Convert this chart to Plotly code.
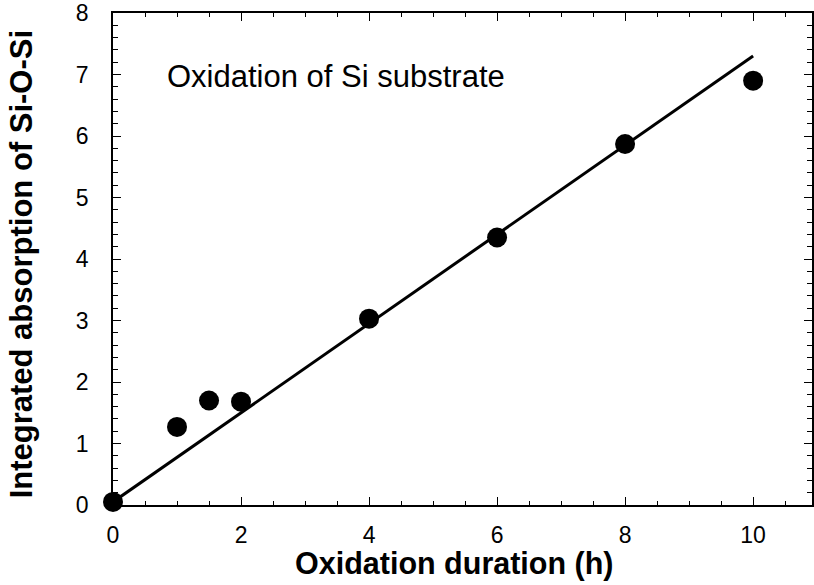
import plotly.graph_objects as go

duration_h = [0, 1, 1.5, 2, 4, 6, 8, 10]
absorption = [0.05, 1.27, 1.70, 1.68, 3.03, 4.35, 5.87, 6.90]
fit_x = [0, 10]
fit_y = [0.05, 7.30]

x_title = "Oxidation duration (h)"
y_title = "Integrated absorption of Si-O-Si"
label_text = "Oxidation of Si substrate"

FONT = "Liberation Sans, Arial, sans-serif"

fig = go.Figure()
fig.add_trace(go.Scatter(x=fit_x, y=fit_y, mode="lines",
                         line=dict(color="black", width=3), showlegend=False,
                         cliponaxis=False))
fig.add_trace(go.Scatter(x=duration_h, y=absorption, mode="markers",
                         marker=dict(color="black", size=20), showlegend=False,
                         cliponaxis=False))

axis_common = dict(showline=True, linecolor="black", linewidth=1.5, mirror="allticks",
                   ticks="inside", tickwidth=1.2, tickcolor="black",
                   showgrid=False, zeroline=False,
                   tickfont=dict(family=FONT, size=23, color="black"))

fig.update_xaxes(range=[0, 10.92], dtick=2, tick0=0, ticklen=8, ticklabelstandoff=9,
                 minor=dict(dtick=0.5, ticks="inside", ticklen=4, tickcolor="black", tickwidth=1.2, showgrid=False),
                 **axis_common)
fig.update_yaxes(range=[0, 8], dtick=1, tick0=0, ticklen=8, ticklabelstandoff=18,
                 minor=dict(dtick=0.2, ticks="inside", ticklen=5, tickcolor="black", tickwidth=1.2, showgrid=False),
                 **axis_common)

fig.add_annotation(x=0.81, y=6.97, xref="x", yref="y", text=label_text,
                   showarrow=False, xanchor="left", yanchor="middle",
                   font=dict(family=FONT, size=31, color="black"))
fig.add_annotation(x=0.488, y=-0.118, xref="paper", yref="paper", text="<b>" + x_title + "</b>",
                   showarrow=False, xanchor="center", yanchor="middle",
                   font=dict(family=FONT, size=30.5, color="black"))
fig.add_annotation(x=-0.131, y=0.49, xref="paper", yref="paper", text="<b>" + y_title + "</b>",
                   showarrow=False, xanchor="center", yanchor="middle", textangle=-90,
                   font=dict(family=FONT, size=31, color="black"))

fig.update_layout(width=814, height=585, margin=dict(l=113, r=0, t=13, b=80),
                  plot_bgcolor="white", paper_bgcolor="white",
                  font=dict(family=FONT, color="black"))

fig.write_html("out.html")
